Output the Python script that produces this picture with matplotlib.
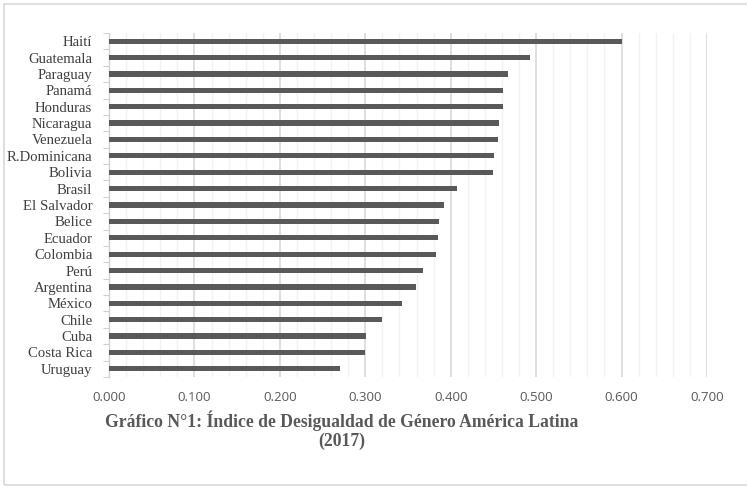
import matplotlib.pyplot as plt
import numpy as np
from matplotlib.patches import Rectangle
from matplotlib.ticker import MultipleLocator, FormatStrFormatter

paises = ['Haití', 'Guatemala', 'Paraguay', 'Panamá', 'Honduras', 'Nicaragua',
          'Venezuela', 'R.Dominicana', 'Bolivia', 'Brasil', 'El Salvador',
          'Belice', 'Ecuador', 'Colombia', 'Perú', 'Argentina', 'México',
          'Chile', 'Cuba', 'Costa Rica', 'Uruguay']
igg = [0.601, 0.493, 0.467, 0.461, 0.461, 0.457, 0.455, 0.451, 0.450, 0.407,
       0.392, 0.386, 0.385, 0.383, 0.368, 0.359, 0.343, 0.319, 0.301, 0.300,
       0.270]
xticks = [0.0, 0.1, 0.2, 0.3, 0.4, 0.5, 0.6, 0.7]

W, H = 747, 487
fig = plt.figure(figsize=(W / 100, H / 100), dpi=100)

# marco exterior
fig.patches.append(Rectangle((4 / W, 2 / H), 1.2, 1 - 6 / H, transform=fig.transFigure,
                             fill=False, edgecolor='#d9d9d9', linewidth=1.2))

ax = fig.add_axes([109 / W, 1 - 377 / H, (707 - 109) / W, (377 - 33) / H])

y = np.arange(len(paises))
ax.barh(y, igg, height=0.32, color='#595959', zorder=3)
ax.set_ylim(len(paises) - 0.5, -0.5)
ax.set_xlim(0, 0.7)

ax.set_yticks(y)
ax.set_yticklabels(paises, family='Liberation Serif', fontsize=10.6, color='#404040')
ax.tick_params(axis='y', length=0, pad=12)
ax.set_yticks(np.arange(-0.5, len(paises), 1), minor=True)
ax.tick_params(axis='y', which='minor', length=4, color='#d0d0d0', width=0.8)

ax.set_xticks(xticks)
ax.xaxis.set_major_formatter(FormatStrFormatter('%.3f'))
ax.xaxis.set_minor_locator(MultipleLocator(0.02))
ax.tick_params(axis='x', which='both', length=0, pad=10, labelsize=9.5, labelcolor='#595959')
for lab in ax.get_xticklabels():
    lab.set_family('Open Sans')

ax.grid(axis='x', which='major', color='#d9d9d9', linewidth=1.2, zorder=0)
ax.grid(axis='x', which='minor', color='#f2f2f2', linewidth=1.0, zorder=0)

for s in ['top', 'right', 'bottom']:
    ax.spines[s].set_visible(False)
ax.spines['left'].set_color('#d0d0d0')
ax.spines['left'].set_linewidth(1.0)

fig.text(342 / W, 1 - 430 / H, 'Gráfico N°1: Índice de Desigualdad de Género América Latina\n(2017)',
         ha='center', va='center', family='Liberation Serif', fontweight='bold',
         fontsize=12.7, color='#595959', linespacing=1.1)

fig.savefig('out.png', dpi=100)
